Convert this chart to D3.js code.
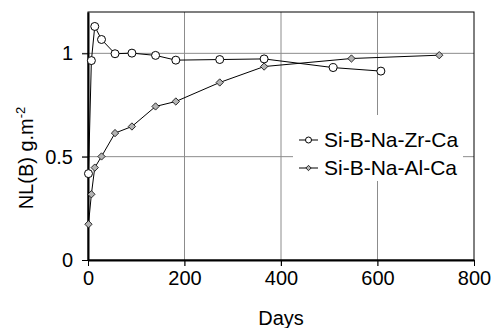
<!DOCTYPE html>
<html>
<head>
<meta charset="utf-8">
<script src="https://cdn.jsdelivr.net/npm/d3@7"></script>
<style>
  body { margin: 0; background: #fff; }
  svg { display: block; font-family: "Liberation Sans", Arial, sans-serif; }
</style>
</head>
<body>
<svg id="chart" width="494" height="328"></svg>
<script>
// data
const zrDays = [1, 7, 14, 28, 56, 91, 140, 182, 273, 365, 508, 607];
const zrValues = [0.418, 0.965, 1.13, 1.067, 0.998, 1.001, 0.99, 0.967, 0.97, 0.973, 0.931, 0.914];
const alDays = [1, 7, 14, 28, 56, 91, 140, 182, 273, 365, 546, 728];
const alValues = [0.173, 0.318, 0.447, 0.501, 0.614, 0.646, 0.743, 0.767, 0.859, 0.936, 0.975, 0.991];
const xTicks = [0, 200, 400, 600, 800];
const yTicks = [0, 0.5, 1];
const seriesNames = ["Si-B-Na-Zr-Ca", "Si-B-Na-Al-Ca"];

const margin = { top: 12, right: 20, bottom: 68, left: 88 };
const width = 494, height = 328;
const innerW = width - margin.left - margin.right;
const innerH = height - margin.top - margin.bottom;

const svg = d3.select("#chart");
const g = svg.append("g").attr("transform", `translate(${margin.left},${margin.top})`);

const x = d3.scaleLinear().domain([0, 800]).range([0, innerW]);
const y = d3.scaleLinear().domain([0, 1.2]).range([innerH, 0]);

const gridColor = "#8c8c8c";

// grid lines (extend past axes as tick marks)
g.selectAll(".vgrid").data(xTicks.filter(d => d > 0 && d < 800)).enter()
  .append("line")
  .attr("x1", d => x(d)).attr("x2", d => x(d))
  .attr("y1", 0).attr("y2", innerH + 6)
  .attr("stroke", gridColor).attr("stroke-width", 1);
g.selectAll(".hgrid").data(yTicks.filter(d => d > 0)).enter()
  .append("line")
  .attr("x1", -6).attr("x2", innerW)
  .attr("y1", d => y(d)).attr("y2", d => y(d))
  .attr("stroke", gridColor).attr("stroke-width", 1);

// frame
g.append("rect").attr("width", innerW).attr("height", innerH)
  .attr("fill", "none").attr("stroke", "#000").attr("stroke-width", 1);

// axes
const xaxis = d3.axisBottom(x).tickValues(xTicks).tickSize(6).tickSizeOuter(0);
const yaxis = d3.axisLeft(y).tickValues(yTicks).tickSize(6).tickSizeOuter(0)
  .tickFormat(d => d === 0 ? "0" : d3.format("")(d));

const xg = g.append("g").attr("transform", `translate(0,${innerH})`).call(xaxis);
const yg = g.append("g").call(yaxis);
[xg, yg].forEach(a => {
  a.select(".domain").attr("stroke", "#000").attr("stroke-width", 2);
  a.selectAll(".tick line").attr("stroke", "#000");
  a.selectAll(".tick text").attr("font-size", 20).attr("fill", "#000")
    .attr("font-family", "Liberation Sans, Arial, sans-serif");
});
xg.selectAll(".tick text").attr("dy", "0.71em").attr("y", 11);
yg.selectAll(".tick text").attr("x", -15);

// axis titles
svg.append("text")
  .attr("x", margin.left + innerW / 2).attr("y", 325)
  .attr("text-anchor", "middle").attr("font-size", 20)
  .text("Days");

const yl = svg.append("text")
  .attr("transform", `translate(33,158) rotate(-90)`)
  .attr("text-anchor", "middle").attr("font-size", 20);
yl.append("tspan").text("NL(B) g.m");
yl.append("tspan").attr("dy", -8).attr("font-size", 13).text("-2");

// series
const zr = zrDays.map((d, i) => ({ day: d, v: zrValues[i] }));
const al = alDays.map((d, i) => ({ day: d, v: alValues[i] }));
const line = d3.line().x(d => x(d.day)).y(d => y(d.v));

const diamond = d3.symbol().type(d3.symbolDiamond2).size(34);

[al, zr].forEach(s => {
  g.append("path").datum(s).attr("d", line)
    .attr("fill", "none").attr("stroke", "#000").attr("stroke-width", 1);
});

g.selectAll(".al").data(al).enter().append("path")
  .attr("d", diamond)
  .attr("transform", d => `translate(${x(d.day)},${y(d.v)})`)
  .attr("fill", "#b4b4b4").attr("stroke", "#000").attr("stroke-width", 0.8);

g.selectAll(".zr").data(zr).enter().append("circle")
  .attr("cx", d => x(d.day)).attr("cy", d => y(d.v)).attr("r", 4)
  .attr("fill", "#fff").attr("stroke", "#000").attr("stroke-width", 1);

// legend
const lg = svg.append("g").attr("transform", "translate(293,115)");
lg.append("rect").attr("width", 170).attr("height", 66).attr("fill", "#fff");
seriesNames.forEach((name, i) => {
  const cy = 25 + i * 28;
  lg.append("line").attr("x1", 6).attr("x2", 25).attr("y1", cy).attr("y2", cy)
    .attr("stroke", "#000").attr("stroke-width", 1);
  if (i === 0) {
    lg.append("circle").attr("cx", 15.5).attr("cy", cy).attr("r", 3)
      .attr("fill", "#fff").attr("stroke", "#000").attr("stroke-width", 1);
  } else {
    lg.append("path").attr("d", d3.symbol().type(d3.symbolDiamond2).size(18))
      .attr("transform", `translate(15.5,${cy})`)
      .attr("fill", "#b4b4b4").attr("stroke", "#000").attr("stroke-width", 0.8);
  }
  lg.append("text").attr("x", 31).attr("y", cy).attr("dy", "0.35em")
    .attr("font-size", 21).text(name);
});
</script>
</body>
</html>
